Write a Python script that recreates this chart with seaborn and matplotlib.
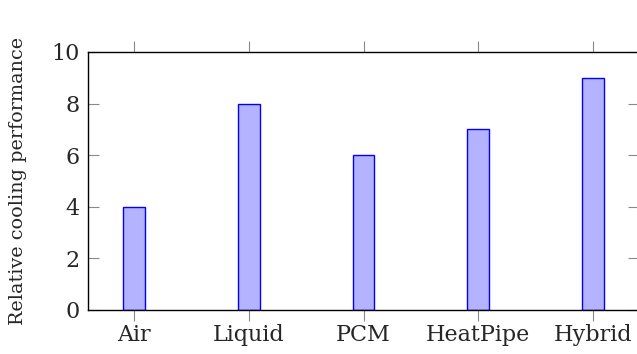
import matplotlib
matplotlib.use("Agg")
import matplotlib.pyplot as plt
import seaborn as sns
import pandas as pd

categories = ["Air", "Liquid", "PCM", "HeatPipe", "Hybrid"]
values = [4, 8, 6, 7, 9]
y_ticks = [0, 2, 4, 6, 8, 10]
y_label = "Relative cooling performance"

sns.set_theme(style="white")
plt.rcParams["font.family"] = ["DejaVu Serif"]

df = pd.DataFrame({"method": categories, "perf": values})

fig = plt.figure(figsize=(6.37, 3.54), dpi=100)
ax = fig.add_axes([88 / 637, 44 / 354, 551 / 637, 258 / 354])
sns.barplot(data=df, x="method", y="perf", ax=ax, width=0.19,
            color="#b3b3ff", edgecolor="#0000ff", linewidth=1.0, saturation=1)
for p in ax.patches:
    p.set_facecolor("#b3b3ff")
    p.set_edgecolor("#0000ff")

ax.set_xlim(-0.4, 4.4)
ax.set_ylim(0, 10)
ax.set_yticks(y_ticks)
ax.set_yticklabels([str(t) for t in y_ticks])
ax.set_xlabel("")
ax.set_ylabel(y_label, fontsize=13.8)
ax.yaxis.set_label_coords(-0.111, 0.5)
for s in ax.spines.values():
    s.set_visible(True)
    s.set_color("black")
    s.set_linewidth(1.0)
ax.tick_params(axis="y", which="both", direction="in", length=8, width=0.8,
               color="#888888", left=True, right=True, labelsize=16, pad=6)
ax.tick_params(axis="x", which="both", direction="out", length=8, width=0.8,
               color="#888888", bottom=True, top=True, labelsize=16, pad=2)
ax.grid(False)
fig.savefig("out.png", dpi=100)
